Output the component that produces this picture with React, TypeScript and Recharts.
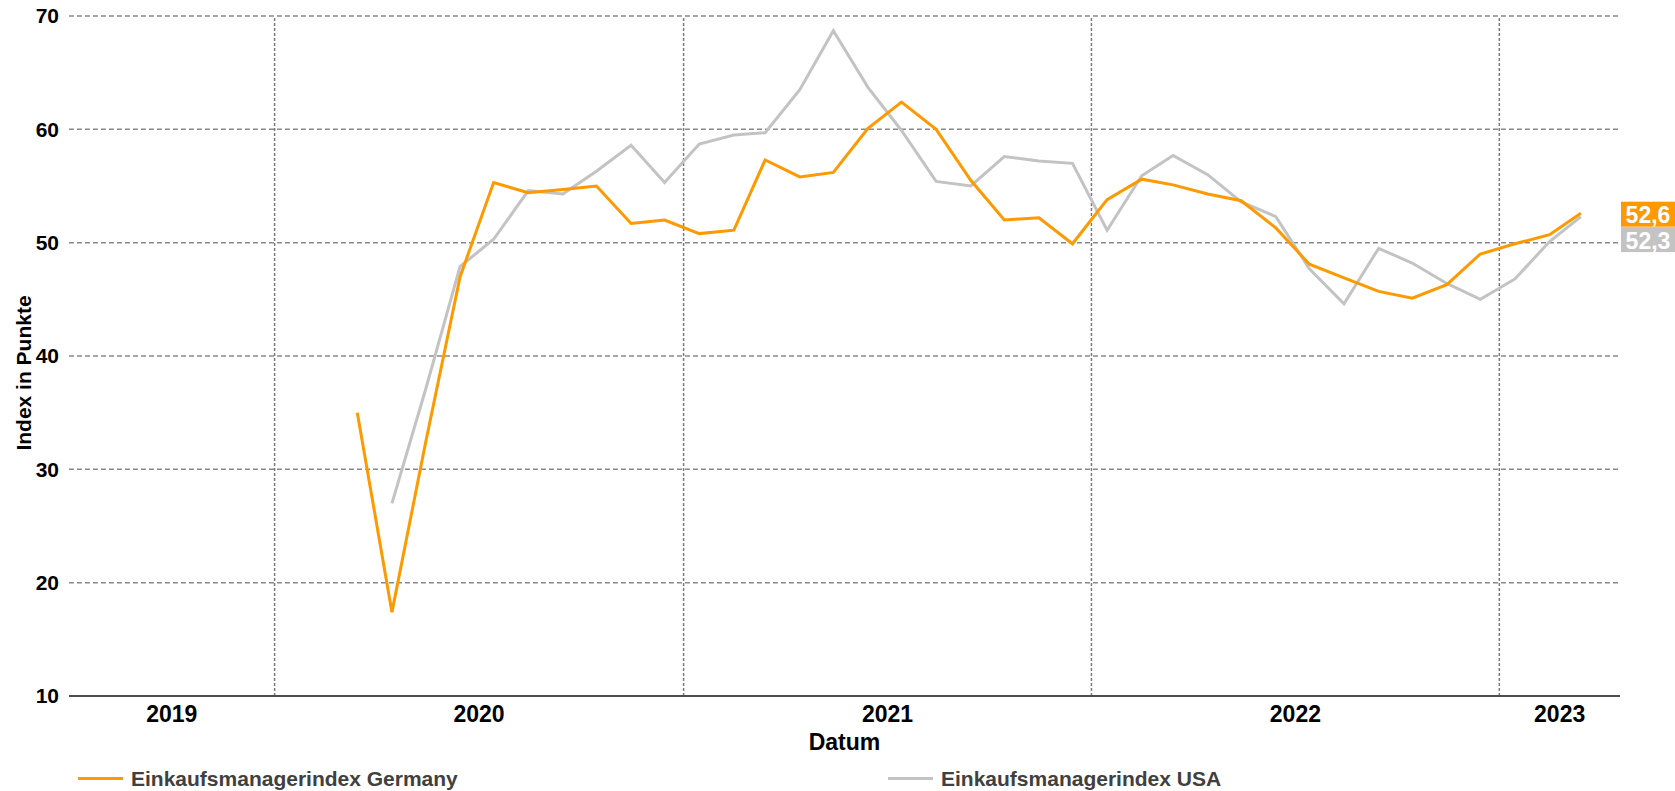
import { LineChart, Line, XAxis, YAxis, CartesianGrid, ReferenceLine, LabelList, Legend } from 'recharts'

// monthly composite PMI, first value = March 2020
const months = [
  '2020-03', '2020-04', '2020-05', '2020-06', '2020-07', '2020-08', '2020-09', '2020-10', '2020-11', '2020-12',
  '2021-01', '2021-02', '2021-03', '2021-04', '2021-05', '2021-06', '2021-07', '2021-08', '2021-09', '2021-10', '2021-11', '2021-12',
  '2022-01', '2022-02', '2022-03', '2022-04', '2022-05', '2022-06', '2022-07', '2022-08', '2022-09', '2022-10', '2022-11', '2022-12',
  '2023-01', '2023-02', '2023-03',
]
const germany = [
  35.0, 17.4, 32.3, 47.0, 55.3, 54.4, 54.7, 55.0, 51.7, 52.0,
  50.8, 51.1, 57.3, 55.8, 56.2, 60.1, 62.4, 60.0, 55.5, 52.0, 52.2, 49.9,
  53.8, 55.6, 55.1, 54.3, 53.7, 51.3, 48.1, 46.9, 45.7, 45.1, 46.3, 49.0,
  49.9, 50.7, 52.6,
]
const usa = [
  null, 27.0, 37.0, 47.9, 50.3, 54.6, 54.3, 56.3, 58.6, 55.3,
  58.7, 59.5, 59.7, 63.5, 68.7, 63.7, 59.9, 55.4, 55.0, 57.6, 57.2, 57.0,
  51.1, 55.9, 57.7, 56.0, 53.6, 52.3, 47.7, 44.6, 49.5, 48.2, 46.4, 45.0,
  46.8, 50.1, 52.3,
]
const yearLabels = [2019, 2020, 2021, 2022, 2023]
const yearBreaks = [2020, 2021, 2022, 2023]
const yTicks = [10, 20, 30, 40, 50, 60, 70]

const W = 1675
const H = 791
const margin = { top: 16, right: 55, left: 0, bottom: 0 }
const FONT = '"Liberation Sans", Arial, Helvetica, sans-serif'
const ORANGE = '#ff9900'
const GREY = '#c3c3c3'

const toTime = (ym: string) => {
  const [y, m] = ym.split('-').map(Number)
  return Date.UTC(y, m - 1, 15)
}
const xStart = Date.UTC(2019, 6, 1)
const xEnd = Date.UTC(2023, 3, 19)

const data = months.map((m, i) => ({ t: toTime(m), germany: germany[i], usa: usa[i] }))
const last = data.length - 1

// year labels sit in the middle of the visible part of each year
const yearTickPos = yearLabels.map(
  (y) => (Math.max(xStart, Date.UTC(y, 0, 1)) + Math.min(xEnd, Date.UTC(y + 1, 0, 1))) / 2
)

const plotRight = W - margin.right

function badge(color: string, shift: number) {
  return (props: any) => {
    const { y, index, value } = props
    if (index !== last || y == null) return null
    const h = 25
    const cy = Number(y) + shift
    return (
      <g>
        <rect x={plotRight + 1} y={cy - h / 2} width={W - plotRight - 1} height={h} fill={color} />
        <text
          x={(plotRight + 1 + W) / 2}
          y={cy + 9}
          textAnchor="middle"
          fill="#fff"
          fontSize={23}
          fontWeight={700}
          fontFamily={FONT}
        >
          {String(value).replace('.', ',')}
        </text>
      </g>
    )
  }
}

const legendItems = [
  { label: 'Einkaufsmanagerindex Germany', color: ORANGE, left: 78 },
  { label: 'Einkaufsmanagerindex USA', color: GREY, left: 888 },
]

function renderLegend() {
  return (
    <div style={{ position: 'relative', width: W, height: 31 }}>
      {legendItems.map((item) => (
        <div key={item.label} style={{ position: 'absolute', left: item.left, top: 0, height: 31 }}>
          <div
            style={{ position: 'absolute', left: 0, top: 16.5, width: 45, height: 3, background: item.color }}
          />
          <div
            style={{
              position: 'absolute',
              left: 53,
              top: 8,
              whiteSpace: 'nowrap',
              fontFamily: FONT,
              fontSize: 21,
              lineHeight: '21px',
              fontWeight: 700,
              color: '#404040',
            }}
          >
            {item.label}
          </div>
        </div>
      ))}
    </div>
  )
}

export default function App() {
  return (
    <div style={{ position: 'absolute', left: 0, top: 0, width: W, height: H, background: '#fff' }}>
      <LineChart width={W} height={H} data={data} margin={margin}>
        <CartesianGrid vertical={false} stroke="#8a8a8a" strokeWidth={1.5} strokeDasharray="5 3" />
        {yearBreaks.map((y) => (
          <ReferenceLine
            key={y}
            x={Date.UTC(y, 0, 1)}
            stroke="#7a7a7a"
            strokeWidth={1.5}
            strokeDasharray="3 2"
          />
        ))}
        <XAxis
          dataKey="t"
          type="number"
          domain={[xStart, xEnd]}
          ticks={yearTickPos}
          tickFormatter={(v: number) => String(new Date(v).getUTCFullYear())}
          height={95}
          tickSize={0}
          tickMargin={10}
          tickLine={false}
          axisLine={{ stroke: '#4d4d4d', strokeWidth: 2 }}
          tick={{ fill: '#000', fontSize: 23, fontWeight: 700, fontFamily: FONT }}
          label={(props: any) => {
            const vb = props.viewBox || {}
            const cx = vb.width ? vb.x + vb.width / 2 : 844.5
            const top = vb.y != null ? vb.y : 696
            return (
              <text x={cx} y={top + 54} textAnchor="middle" fill="#000" fontSize={23} fontWeight={700} fontFamily={FONT}>
                Datum
              </text>
            )
          }}
        />
        <YAxis
          type="number"
          domain={[10, 70]}
          ticks={yTicks}
          width={69}
          tickSize={0}
          tickMargin={10}
          tickLine={false}
          axisLine={false}
          tick={{ fill: '#000', fontSize: 21, fontWeight: 700, fontFamily: FONT }}
          label={() => (
            <text
              transform="translate(31,373) rotate(-90)"
              textAnchor="middle"
              fill="#000"
              fontSize={21}
              fontWeight={700}
              fontFamily={FONT}
            >
              Index in Punkte
            </text>
          )}
        />
        <Legend
          verticalAlign="middle"
          align="center"
          layout="horizontal"
          wrapperStyle={{ left: 0, top: 760, width: W, height: 31 }}
          content={renderLegend}
        />
        <Line
          type="linear"
          dataKey="usa"
          stroke={GREY}
          strokeWidth={3}
          dot={false}
          activeDot={false}
          isAnimationActive={false}
        >
          <LabelList dataKey="usa" content={badge(GREY, 23)} />
        </Line>
        <Line
          type="linear"
          dataKey="germany"
          stroke={ORANGE}
          strokeWidth={3}
          dot={false}
          activeDot={false}
          isAnimationActive={false}
        >
          <LabelList dataKey="germany" content={badge(ORANGE, 1)} />
        </Line>
      </LineChart>
    </div>
  )
}
